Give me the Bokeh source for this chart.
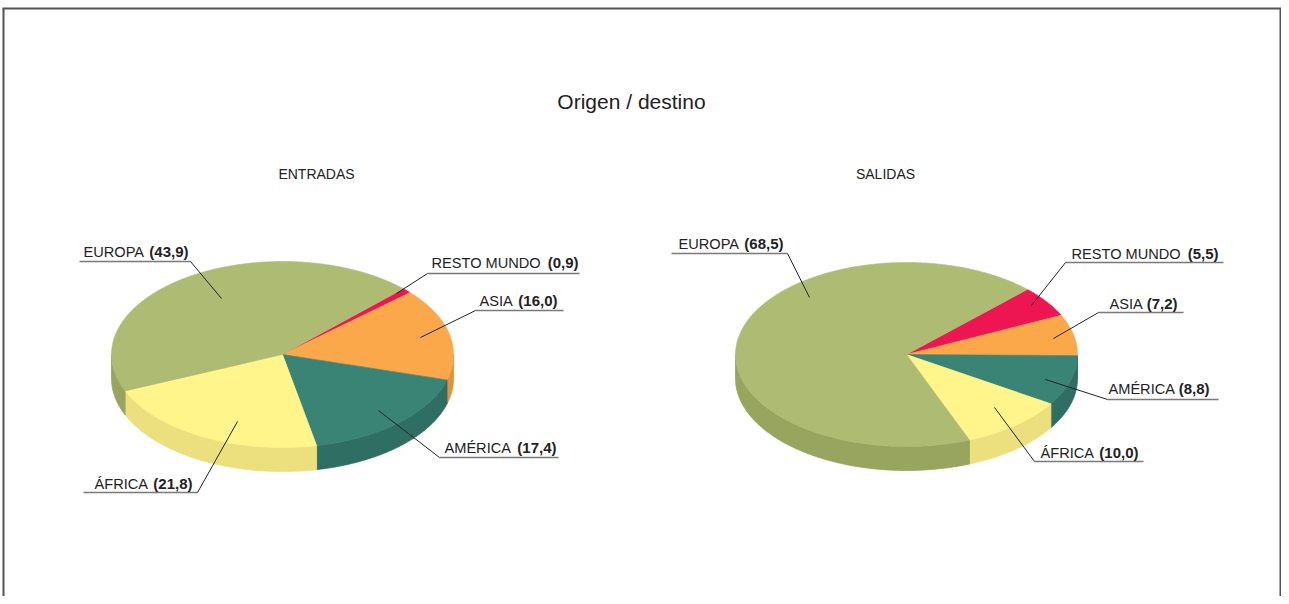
import numpy as np
from bokeh.plotting import figure
from bokeh.models import Range1d
from bokeh.core.properties import value
from bokeh.embed import file_html
from bokeh.resources import INLINE

# ---------------- data ----------------
title = "Origen / destino"
pie_titles = ["ENTRADAS", "SALIDAS"]
categories = ["RESTO MUNDO", "ASIA", "AMÉRICA", "ÁFRICA", "EUROPA"]
entradas = [0.9, 16.0, 17.4, 21.8, 43.9]
salidas = [5.5, 7.2, 8.8, 10.0, 68.5]
value_labels_entradas = ["(0,9)", "(16,0)", "(17,4)", "(21,8)", "(43,9)"]
value_labels_salidas = ["(5,5)", "(7,2)", "(8,8)", "(10,0)", "(68,5)"]

# ---------------- styles ----------------
top_colors = ["#EE1652", "#FBA84A", "#3A8476", "#FFF58A", "#AEBB72"]
side_colors = ["#C8103F", "#E0913A", "#2F6E62", "#ECDF7D", "#97A55F"]
FONT = value("Liberation Sans")

# ---------------- layout ----------------
W, H = 1281, 596
pies = [
    dict(cx=282, cy=354, rx=171, ry=93, depth=24, start=45.0),
    dict(cx=906, cy=354, rx=171, ry=92, depth=24, start=45.0),
]
# label layout per pie, per category:
# (name_x, value_end_x, text_mid_y, underline_x0, underline_x1, underline_y, anchor_x, anchor_y, leader_side)
label_layout = [
    [
        (431, 578, 262, 427, 579, 273, 396, 293, "L"),
        (479, 557, 300, 475, 563, 310, 420, 337, "L"),
        (444, 556, 447, 439, 558, 457, 378, 410, "L"),
        (94, 192, 483, 83, 197, 492, 237, 421, "R"),
        (83, 188, 251, 79, 190, 261, 221, 298, "R"),
    ],
    [
        (1071, 1218, 253, 1065, 1223, 262, 1031, 305, "L"),
        (1109, 1177, 303, 1098, 1183, 312, 1053, 338, "L"),
        (1108, 1209, 388, 1107, 1218, 399, 1045, 379, "L"),
        (1040, 1138, 452, 1034, 1143, 461, 994, 407, "L"),
        (678, 783, 243, 671, 787, 253, 809, 297, "R"),
    ],
]
title_pos = (631, 101)
pie_title_pos = [(316, 173), (885, 173)]

p = figure(width=W, height=H, x_range=Range1d(0, W), y_range=Range1d(H, 0),
           output_backend="svg", toolbar_location=None, min_border=0,
           x_axis_location=None, y_axis_location=None)
p.grid.visible = False
p.outline_line_color = None
p.background_fill_color = "white"
p.border_fill_color = "white"

# outer border
p.multi_line(xs=[[2, W], [3, 3], [W - 1, W - 1]],
             ys=[[8, 8], [8, H], [8, H]],
             line_color="#555555", line_width=2)


def pt(pie, t_deg, dy=0.0):
    t = np.radians(t_deg)
    return pie["cx"] + pie["rx"] * np.cos(t), pie["cy"] - pie["ry"] * np.sin(t) + dy


for pie, vals, vlabels, layout in zip(pies, [entradas, salidas],
                                      [value_labels_entradas, value_labels_salidas], label_layout):
    total = sum(vals)
    a = pie["start"]
    intervals = []
    for v in vals:
        span = 360.0 * v / total
        intervals.append((a - span, a))  # clockwise
        a -= span

    # side walls (front half only)
    sxs, sys, scol = [], [], []
    for (lo, hi), c in zip(intervals, side_colors):
        for k in range(-2, 2):
            f0, f1 = -180 + 360 * k, 360 * k
            l, h = max(lo, f0), min(hi, f1)
            if h - l > 0.01:
                ts = np.linspace(l, h, max(8, int((h - l) * 2)))
                tx, ty = pt(pie, ts)
                bx, by = pt(pie, ts[::-1], pie["depth"])
                sxs.append(list(tx) + list(bx))
                sys.append(list(ty) + list(by))
                scol.append(c)
    p.patches(xs=sxs, ys=sys, fill_color=scol, line_color=scol, line_width=0.8)

    # top faces
    txs, tys = [], []
    for (lo, hi) in intervals:
        ts = np.linspace(lo, hi, max(4, int((hi - lo) * 2)))
        x, y = pt(pie, ts)
        txs.append([pie["cx"]] + list(x))
        tys.append([pie["cy"]] + list(y))
    p.patches(xs=txs, ys=tys, fill_color=top_colors, line_color=top_colors, line_width=0.6)

    # labels
    for cat, vl, lay in zip(categories, vlabels, layout):
        nx, vx, my, ux0, ux1, uy, ax, ay, side = lay
        p.line(x=[ux0, ux1], y=[uy, uy], line_color="#7a7a7a", line_width=1.5)
        ex = ux0 if side == "L" else ux1
        p.line(x=[ex, ax], y=[uy, ay], line_color="#222222", line_width=1)
        p.text(x=[nx], y=[my], text=[cat], text_font=FONT, text_font_size="14.6px",
               text_color="#222222", text_baseline="middle", text_align="left")
        p.text(x=[vx], y=[my], text=[vl], text_font=FONT, text_font_size="15px",
               text_font_style="bold", text_color="#222222",
               text_baseline="middle", text_align="right")

p.text(x=[title_pos[0]], y=[title_pos[1]], text=[title], text_font=FONT,
       text_font_size="21px", text_color="#222222", text_align="center",
       text_baseline="middle")
for (x, y), t in zip(pie_title_pos, pie_titles):
    p.text(x=[x], y=[y], text=[t], text_font=FONT, text_font_size="14px",
           text_color="#222222", text_align="center", text_baseline="middle")

open("out.html", "w").write(file_html(p, INLINE))
